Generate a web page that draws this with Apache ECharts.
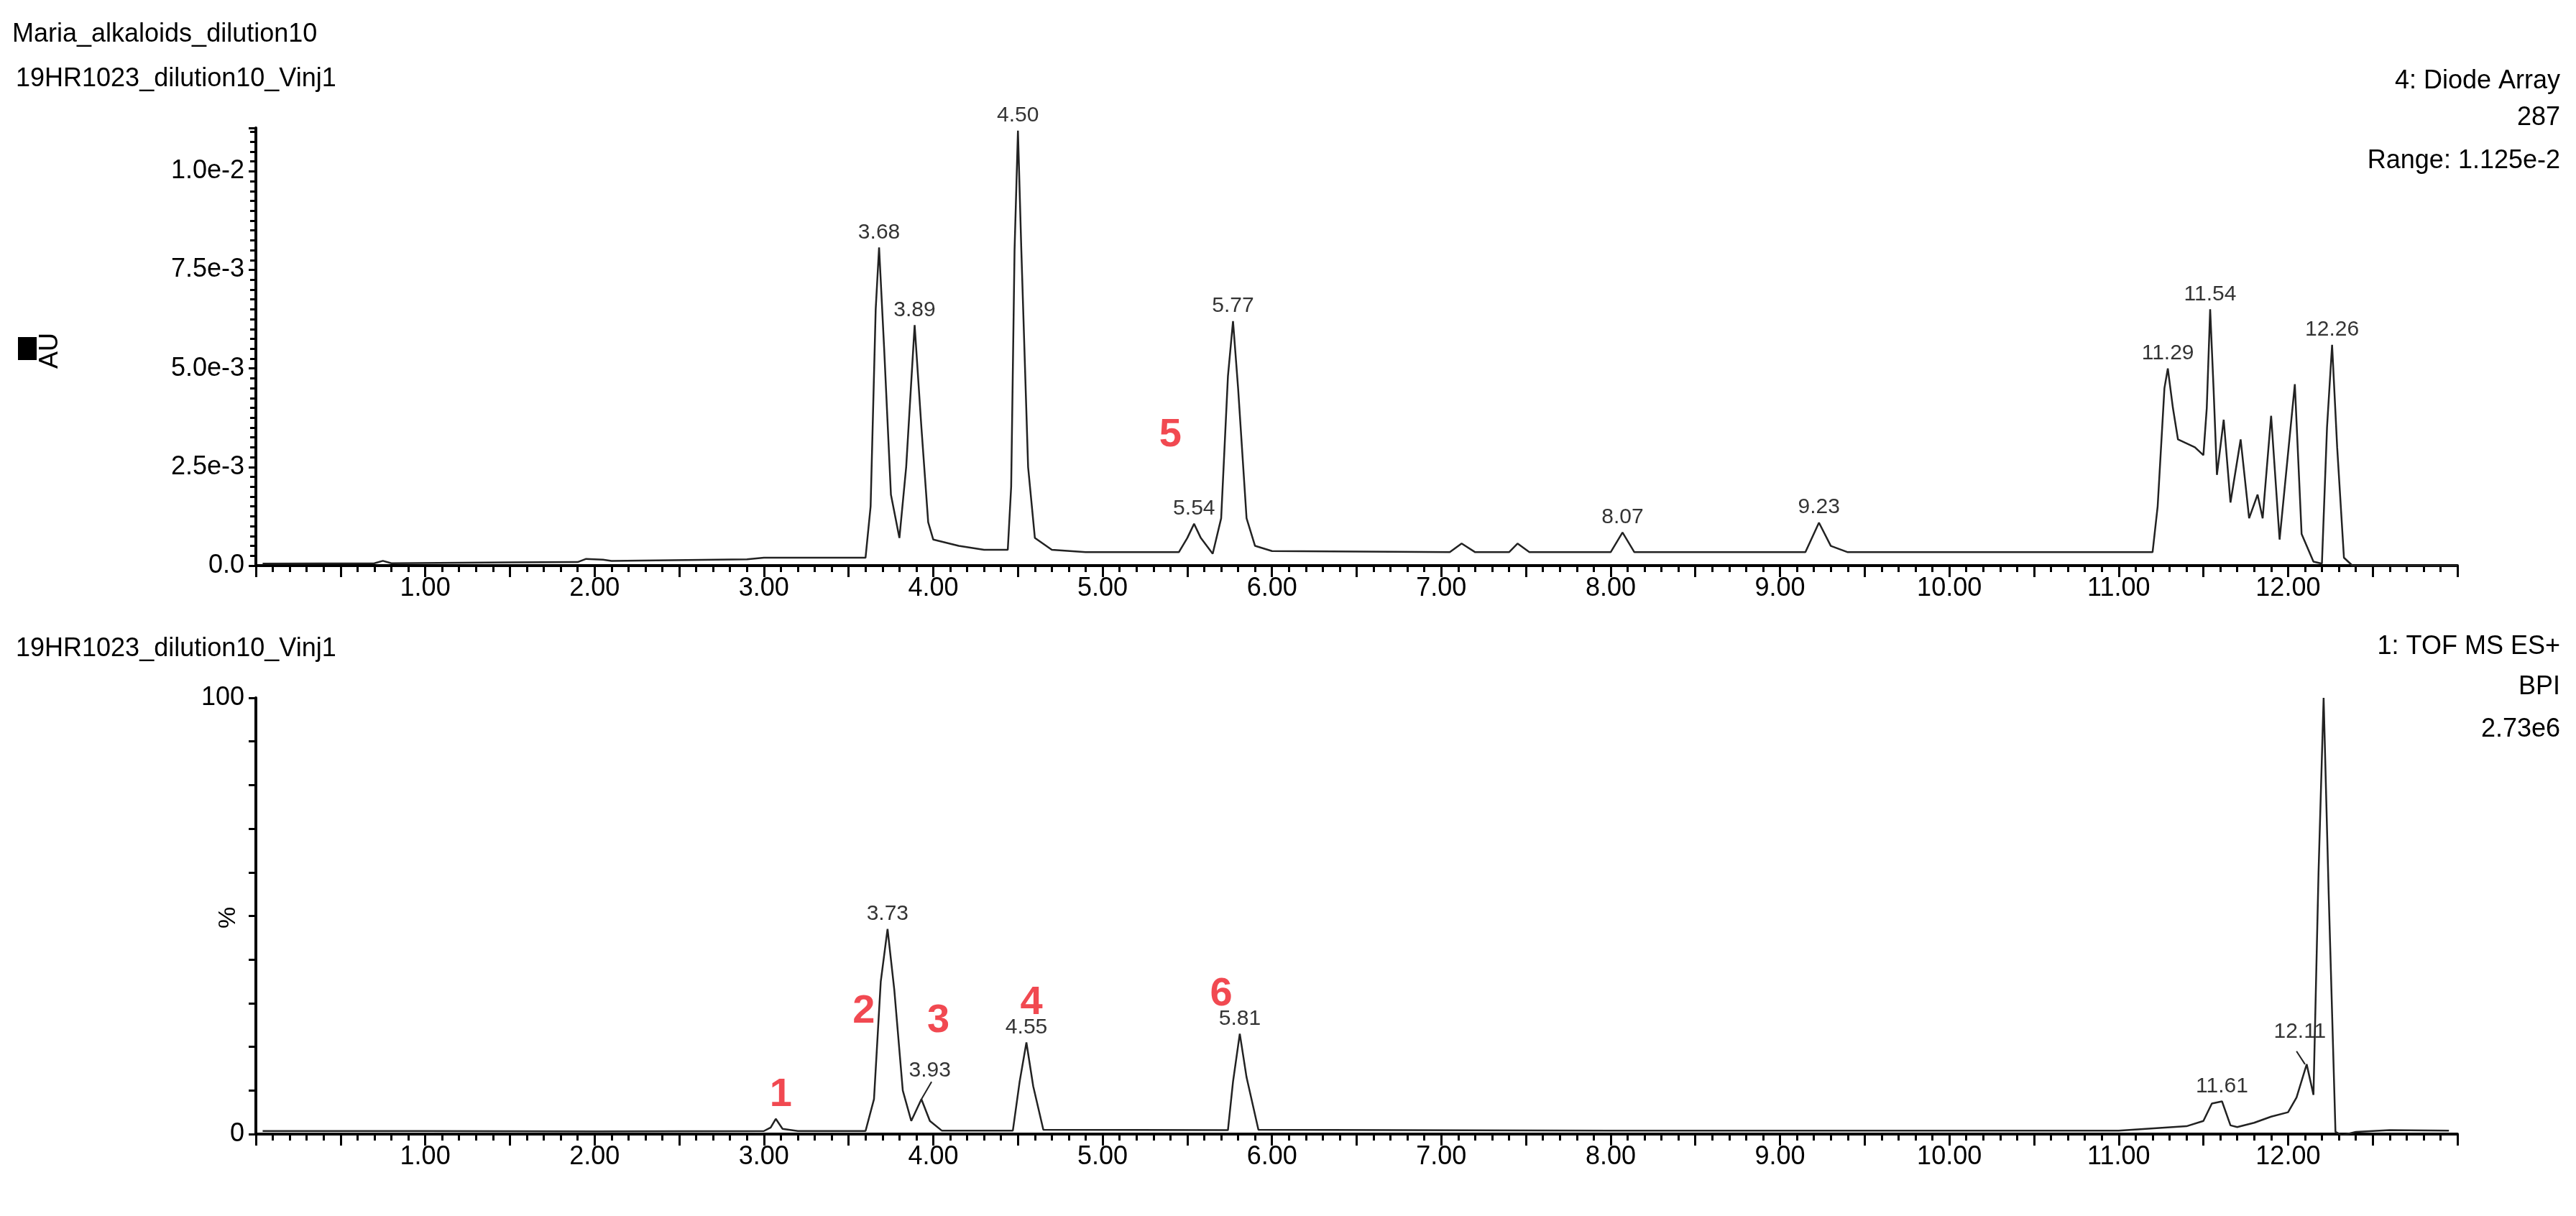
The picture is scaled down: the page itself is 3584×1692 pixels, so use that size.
<!DOCTYPE html>
<html><head><meta charset="utf-8">
<script src="https://cdn.jsdelivr.net/npm/echarts@6/dist/echarts.min.js"></script>
<style>html,body{margin:0;padding:0;background:#fff}#c{width:3584px;height:1692px}</style>
</head><body><div id="c"></div>
<script>
// Top trace: Diode Array 287 (AU)
const uvTrace = [[0.04,0.00005],[0.7,0.00006],[0.75,0.00012],[0.8,0.00006],[1.5,0.00008],[1.9,0.00009],[1.95,0.00017],[2.05,0.00015],[2.1,0.00012],[2.9,0.00016],[3.0,0.0002],[3.6,0.0002],[3.63,0.0015],[3.66,0.0065],[3.68,0.00807],[3.71,0.0055],[3.75,0.0018],[3.8,0.0007],[3.84,0.0025],[3.89,0.0061],[3.93,0.0035],[3.97,0.0011],[4.0,0.00066],[4.15,0.0005],[4.3,0.0004],[4.44,0.0004],[4.46,0.002],[4.48,0.008],[4.50,0.01103],[4.52,0.008],[4.56,0.0025],[4.6,0.0007],[4.7,0.0004],[4.9,0.00034],[5.45,0.00034],[5.5,0.0007],[5.54,0.00106],[5.58,0.0007],[5.65,0.0003],[5.7,0.0012],[5.74,0.0048],[5.77,0.0062],[5.8,0.0045],[5.85,0.0012],[5.9,0.0005],[6.0,0.00037],[7.05,0.00034],[7.12,0.00056],[7.2,0.00034],[7.4,0.00034],[7.45,0.00056],[7.52,0.00034],[8.0,0.00034],[8.07,0.00084],[8.14,0.00034],[9.15,0.00034],[9.23,0.00109],[9.3,0.0005],[9.4,0.00034],[11.2,0.00034],[11.23,0.0015],[11.27,0.0045],[11.29,0.0050],[11.32,0.0040],[11.35,0.0032],[11.45,0.003],[11.5,0.0028],[11.52,0.004],[11.54,0.0065],[11.56,0.0045],[11.58,0.0023],[11.62,0.0037],[11.66,0.0016],[11.72,0.0032],[11.77,0.0012],[11.82,0.0018],[11.85,0.0012],[11.9,0.0038],[11.95,0.00066],[12.04,0.0046],[12.08,0.0008],[12.15,0.0001],[12.2,0.00005],[12.23,0.0035],[12.26,0.0056],[12.29,0.003],[12.33,0.0002],[12.38,0.0],[13.0,0.0]];
// Bottom trace: TOF MS ES+ BPI (%)
const msTrace = [[0.04,0.7],[1.0,0.7],[2.0,0.6],[3.0,0.7],[3.04,1.5],[3.07,3.5],[3.11,1.2],[3.2,0.7],[3.6,0.7],[3.65,8],[3.69,35],[3.73,47],[3.77,33],[3.82,10],[3.87,3],[3.93,8],[3.98,3],[4.05,0.8],[4.47,0.8],[4.51,12],[4.55,21],[4.59,11],[4.65,1],[5.74,0.9],[5.77,12],[5.81,23],[5.85,13],[5.92,1],[8.0,0.8],[11.0,0.8],[11.4,1.8],[11.5,3],[11.55,7],[11.61,7.5],[11.66,2],[11.7,1.6],[11.8,2.6],[11.9,4],[12.0,5],[12.05,8.4],[12.11,16],[12.15,9],[12.18,60],[12.21,100],[12.24,55],[12.28,0.5],[12.32,-0.3],[12.4,0.5],[12.6,0.9],[12.95,0.8]];
const uvPeaks = [[3.68,0.00807,'3.68'],[3.89,0.0061,'3.89'],[4.50,0.01103,'4.50'],[5.54,0.00106,'5.54'],[5.77,0.0062,'5.77'],[8.07,0.00084,'8.07'],[9.23,0.00109,'9.23'],[11.29,0.0050,'11.29'],[11.54,0.0065,'11.54'],[12.26,0.0056,'12.26']];
const msPeaks = [[3.73,47,'3.73'],[3.98,11,'3.93'],[4.55,21,'4.55'],[5.81,23,'5.81'],[11.61,7.5,'11.61'],[12.07,20,'12.11']];
const redTop = [[5.40,0.0033,'5']];
const redBottom = [[3.10,9,'1'],[3.59,28,'2'],[4.03,26,'3'],[4.58,30,'4'],[5.70,32,'6']];
const xTickFmt = v => (Math.abs(v - Math.round(v)) < 1e-6 && v > 0.5 && v < 12.5) ? v.toFixed(2) : '';
const F = 'Liberation Sans, Arial, sans-serif';

const xAxisBase = (gi) => ({
  type:'value', gridIndex:gi, min:0, max:13, interval:0.5,
  axisLine:{lineStyle:{color:'#000',width:4}},
  axisTick:{length:16,lineStyle:{color:'#000',width:3}},
  minorTick:{show:true,splitNumber:5,length:9,lineStyle:{color:'#000',width:3}},
  splitLine:{show:false},
  axisLabel:{formatter:xTickFmt,color:'#000',fontFamily:F,fontSize:36,margin:14,showMinLabel:true,showMaxLabel:true}
});
const chart = echarts.init(document.getElementById('c'));
chart.setOption({
  animation:false, backgroundColor:'#fff',
  grid:[{left:356,right:165,top:178,bottom:905},{left:356,right:165,top:971,bottom:114}],
  xAxis:[xAxisBase(0), xAxisBase(1)],
  yAxis:[
    {type:'value',gridIndex:0,min:0,max:0.0111,interval:0.0025,
     axisLine:{show:true,lineStyle:{color:'#000',width:4}},
     axisTick:{show:true,length:10,lineStyle:{color:'#000',width:3}},
     minorTick:{show:true,splitNumber:10,length:8,lineStyle:{color:'#000',width:3}},
     splitLine:{show:false},
     axisLabel:{color:'#000',fontFamily:F,fontSize:36,margin:16,
       formatter:v=>{const m=[[0,'0.0'],[0.0025,'2.5e-3'],[0.005,'5.0e-3'],[0.0075,'7.5e-3'],[0.01,'1.0e-2']].find(p=>Math.abs(p[0]-v)<1e-7);return m?m[1]:'';}}},
    {type:'value',gridIndex:1,min:0,max:100,interval:10,
     axisLine:{show:true,lineStyle:{color:'#000',width:4}},
     axisTick:{show:true,length:10,lineStyle:{color:'#000',width:3}},
     splitLine:{show:false},
     axisLabel:{color:'#000',fontFamily:F,fontSize:36,margin:16,formatter:v=>(v===0||v===100)?String(v):''}}
  ],
  series:[
    {type:'line',xAxisIndex:0,yAxisIndex:0,data:uvTrace,showSymbol:false,lineStyle:{color:'#222',width:2.5},z:3},
    {type:'line',xAxisIndex:1,yAxisIndex:1,data:msTrace,showSymbol:false,lineStyle:{color:'#222',width:2.5},z:3},
    {type:'scatter',xAxisIndex:0,yAxisIndex:0,symbolSize:0,data:uvPeaks.map(p=>({value:[p[0],p[1]],label:{formatter:p[2]}})),
     label:{show:true,position:'top',distance:6,color:'#000',fontFamily:F,fontSize:30},silent:true},
    {type:'scatter',xAxisIndex:1,yAxisIndex:1,symbolSize:0,data:msPeaks.map(p=>({value:[p[0],p[1]],label:{formatter:p[2]}})),
     label:{show:true,position:'top',distance:6,color:'#000',fontFamily:F,fontSize:30},silent:true},
    {type:'scatter',xAxisIndex:0,yAxisIndex:0,symbolSize:0,data:redTop.map(p=>({value:[p[0],p[1]],label:{formatter:p[2]}})),
     label:{show:true,position:'inside',color:'#ee1c25',fontFamily:F,fontSize:56,fontWeight:'bold'},silent:true},
    {type:'scatter',xAxisIndex:1,yAxisIndex:1,symbolSize:0,data:redBottom.map(p=>({value:[p[0],p[1]],label:{formatter:p[2]}})),
     label:{show:true,position:'inside',color:'#ee1c25',fontFamily:F,fontSize:56,fontWeight:'bold'},silent:true},
    {type:'line',xAxisIndex:1,yAxisIndex:1,data:[[3.93,8],[3.99,12]],showSymbol:false,lineStyle:{color:'#222',width:2}},
    {type:'line',xAxisIndex:1,yAxisIndex:1,data:[[12.1,16],[12.05,19]],showSymbol:false,lineStyle:{color:'#222',width:2}}
  ],
  graphic:[
    {type:'text',left:17,top:30,style:{text:'Maria_alkaloids_dilution10',font:'36px '+F,fill:'#000'}},
    {type:'text',left:22,top:92,style:{text:'19HR1023_dilution10_Vinj1',font:'36px '+F,fill:'#000'}},
    {type:'text',right:22,top:95,style:{text:'4: Diode Array',font:'36px '+F,fill:'#000'}},
    {type:'text',right:22,top:146,style:{text:'287',font:'36px '+F,fill:'#000'}},
    {type:'text',right:22,top:206,style:{text:'Range: 1.125e-2',font:'36px '+F,fill:'#000'}},
    {type:'text',left:22,top:885,style:{text:'19HR1023_dilution10_Vinj1',font:'36px '+F,fill:'#000'}},
    {type:'text',right:22,top:882,style:{text:'1: TOF MS ES+',font:'36px '+F,fill:'#000'}},
    {type:'text',right:22,top:938,style:{text:'BPI',font:'36px '+F,fill:'#000'}},
    {type:'text',right:22,top:997,style:{text:'2.73e6',font:'36px '+F,fill:'#000'}},
    {type:'rect',shape:{x:25,y:469,width:26,height:32},style:{fill:'#000'}},
    {type:'text',x:70,y:488,rotation:Math.PI/2,style:{text:'AU',font:'36px '+F,fill:'#000',align:'center',verticalAlign:'middle'}},
    {type:'text',x:318,y:1277,rotation:Math.PI/2,style:{text:'%',font:'34px '+F,fill:'#000',align:'center',verticalAlign:'middle'}}
  ]
});
</script></body></html>
